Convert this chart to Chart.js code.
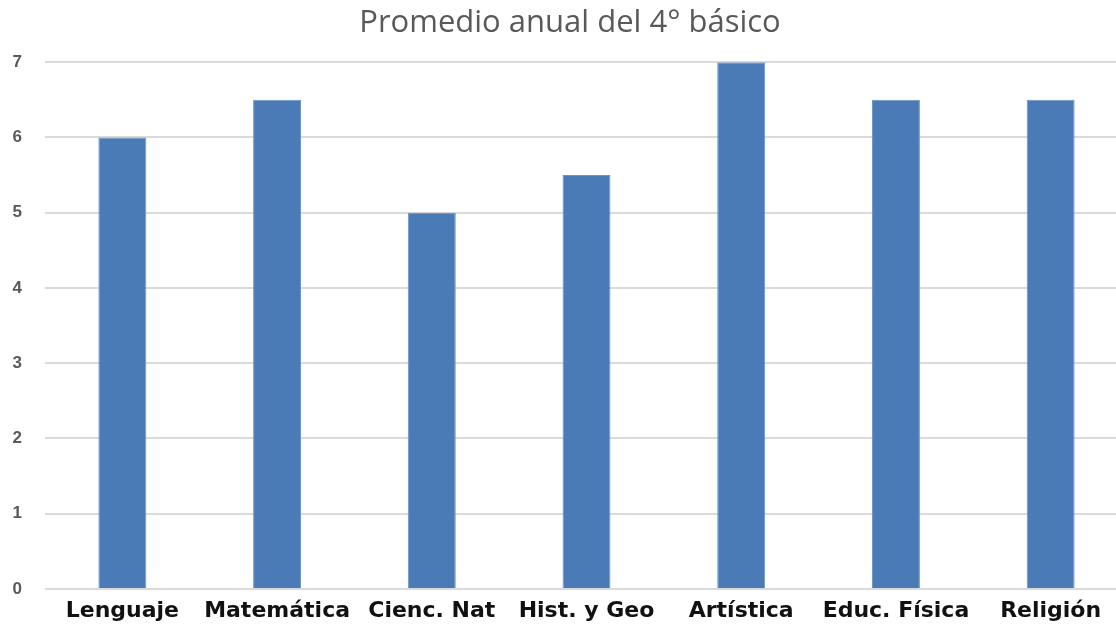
<!DOCTYPE html>
<html>
<head>
<meta charset="utf-8">
<script src="https://cdn.jsdelivr.net/npm/chart.js@4"></script>
<style>
  html, body { margin: 0; padding: 0; background: #fff; overflow: hidden; }
  #wrap { width: 1130px; height: 624px; }
</style>
</head>
<body>
<div id="wrap"><canvas id="barChart"></canvas></div>
<script>
// Promedio anual — one series, seven subjects
const categories = ['Lenguaje', 'Matemática', 'Cienc. Nat', 'Hist. y Geo', 'Artística', 'Educ. Física', 'Religión'];
const promedios = [6, 6.5, 5, 5.5, 7, 6.5, 6.5];
const yTicks = [0, 1, 2, 3, 4, 5, 6, 7];

new Chart(document.getElementById('barChart'), {
  type: 'bar',
  data: {
    labels: categories,
    datasets: [{
      label: 'Promedio',
      data: promedios,
      backgroundColor: '#4a7bb7',
      borderColor: '#6b93c6',
      borderWidth: 1,
      barPercentage: 0.31,
      categoryPercentage: 1,
    }]
  },
  options: {
    responsive: true,
    maintainAspectRatio: false,
    animation: false,
    layout: { padding: { left: 12, right: 2, bottom: 0 } },
    scales: {
      x: {
        grid: { display: false, drawTicks: false },
        border: { display: false },
        afterFit: axis => { axis.height = 35; },
        ticks: {
          color: '#111',
          padding: 9,
          maxRotation: 0,
          autoSkip: false,
          font: { family: 'DejaVu Sans', size: 22, weight: 'bold' },
        }
      },
      y: {
        min: 0, max: 7,
        afterBuildTicks: axis => { axis.ticks = yTicks.map(v => ({ value: v })); },
        afterFit: axis => { axis.width = 33; },
        grid: { color: '#dadada', lineWidth: 2, drawTicks: false },
        border: { display: false },
        ticks: {
          color: '#595959',
          padding: 23,
          font: { family: 'Liberation Sans', size: 17, weight: 'bold' },
        }
      }
    },
    plugins: {
      legend: { display: false },
      tooltip: { enabled: false },
      title: {
        display: true,
        text: 'Promedio anual del 4° básico',
        color: '#595959',
        padding: { top: 5, bottom: 20 },
        font: { family: 'Open Sans', size: 31, weight: 'normal' },
      }
    }
  }
});
</script>
</body>
</html>
